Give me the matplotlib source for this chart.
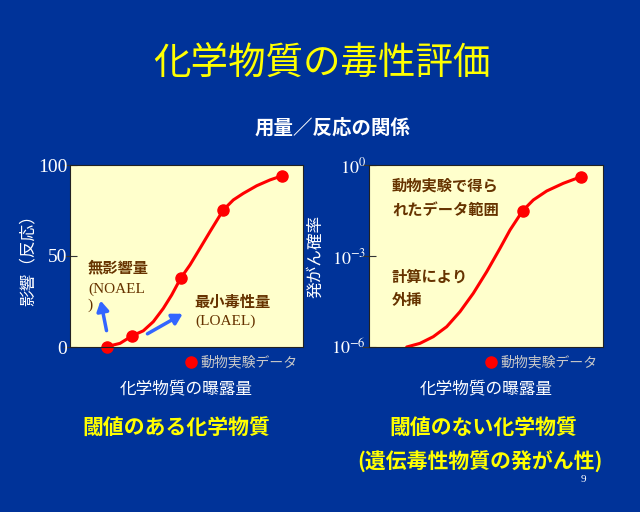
import numpy as np
import matplotlib
matplotlib.use("Agg")
import matplotlib.pyplot as plt

plt.rcParams['font.family'] = ['Noto Sans CJK JP', 'DejaVu Sans']
plt.rcParams['mathtext.fontset'] = 'stix'

# --- data ---
# left panel: dose / response (threshold chemical)
left_pts_x = [1.575, 2.674, 4.751, 6.579, 9.086]
left_pts_y = [0, 6.2, 37.8, 75.3, 94.0]
left_curve_x = [1.575, 2.146, 2.674, 3.146, 3.575, 4.004, 4.365, 4.751, 5.150,
                5.579, 6.009, 6.579, 7.009, 7.438, 8.013, 8.584, 9.086]
left_curve_y = [0.2, 2.0, 6.2, 8.9, 13.9, 21.2, 28.6, 37.8, 45.1,
                54.2, 63.4, 75.3, 80.8, 84.4, 88.6, 91.8, 94.0]

# right panel: carcinogenic probability (no threshold)
right_pts_x = [6.568, 9.060]
right_pts_y = [0.0311, 0.411]
right_curve_x = [1.611, 2.179, 2.748, 3.320, 3.889, 4.457, 5.030, 5.598,
                 6.026, 6.568, 7.021, 7.594, 8.303, 9.060]
right_curve_y = [1.0e-6, 1.32e-6, 2.19e-6, 4.67e-6, 1.46e-5, 5.89e-5, 3.03e-4,
                 1.79e-3, 7.19e-3, 0.0311, 0.0702, 0.139, 0.249, 0.411]

left_yticks = [0, 50, 100]
right_yticks = [1e-6, 1e-3, 1e0]
right_yticklabels = [r'$10^{-6}$', r'$10^{-3}$', r'$10^{0}$']

bg = '#003399'
face = '#FFFFCC'
brown = '#663300'
yellow = '#FFFF00'

fig = plt.figure(figsize=(6.4, 5.12), dpi=100)
fig.patch.set_facecolor(bg)

fig.text(0.503, 1 - 64 / 512, '化学物質の毒性評価', color=yellow, fontsize=27,
         ha='center', va='center')
fig.text(0.519, 1 - 128 / 512, '用量／反応の関係', color='white', fontsize=14,
         fontweight='bold', ha='center', va='center')


def style_axes(ax, size=14):
    ax.set_facecolor(face)
    for s in ax.spines.values():
        s.set_color('#222222')
        s.set_linewidth(0.8)
    ax.set_xticks([])
    ax.tick_params(axis='y', colors='#333333', direction='inout', length=10,
                   labelcolor='white', labelsize=size, pad=-3)
    for lab in ax.get_yticklabels():
        lab.set_fontfamily('Liberation Serif')
    ax.set_xlabel('化学物質の曝露量', color='white', fontsize=12, labelpad=24)


# left panel
ax1 = fig.add_axes([70 / 640, 1 - 347 / 512, 233 / 640, 182 / 512])
ax1.plot(left_curve_x, left_curve_y, color='red', lw=2.2,
         solid_joinstyle='round', solid_capstyle='round')
ax1.plot(left_pts_x, left_pts_y, 'o', color='red', ms=8, clip_on=False,
         label='動物実験データ')
ax1.set_xlim(0, 10)
ax1.set_ylim(0, 100)
ax1.set_yticks(left_yticks)
ax1.set_yticklabels([str(v) for v in left_yticks])
style_axes(ax1)
ax1.set_ylabel('影響（反応）', color='white', fontsize=12)
ax1.yaxis.set_label_coords(-0.142, 0.5)

ax1.text(0.77, 44, '無影響量', color=brown, fontsize=11, fontweight='bold', va='center')
ax1.text(0.77, 32, '(NOAEL', color=brown, fontsize=11, va='center',
         family='Liberation Serif')
ax1.text(0.77, 23, ')', color=brown, fontsize=11, va='center',
         family='Liberation Serif')
ax1.text(5.36, 25, '最小毒性量', color=brown, fontsize=11, fontweight='bold', va='center')
ax1.text(5.36, 14, '(LOAEL)', color=brown, fontsize=11, va='center',
         family='Liberation Serif')
arrow = dict(arrowstyle='-|>,head_width=0.35,head_length=0.6', color='#3366FF', lw=2.5)
ax1.annotate('', xy=(1.29, 27), xytext=(1.59, 7.5), arrowprops=arrow)
ax1.annotate('', xy=(4.94, 19), xytext=(3.22, 6.5), arrowprops=arrow)

leg_kw = dict(loc='upper right', bbox_to_anchor=(1.03, 0.02), frameon=False,
              handletextpad=0.2, handlelength=1.0, fontsize=10, labelcolor='#C8C8C8')
ax1.legend(**leg_kw)

# right panel
ax2 = fig.add_axes([369 / 640, 1 - 347 / 512, 234 / 640, 182 / 512])
ax2.plot(right_curve_x, right_curve_y, color='red', lw=2.2,
         solid_joinstyle='round', solid_capstyle='round')
ax2.plot(right_pts_x, right_pts_y, 'o', color='red', ms=8, clip_on=False,
         label='動物実験データ')
ax2.set_yscale('log')
ax2.set_xlim(0, 10)
ax2.set_ylim(1e-6, 1e0)
ax2.set_yticks(right_yticks)
ax2.set_yticklabels(right_yticklabels)
ax2.minorticks_off()
style_axes(ax2, size=13)
ax2.set_ylabel('発がん確率', color='white', fontsize=12)
ax2.yaxis.set_label_coords(-0.19, 0.5)

ax2.text(0.098, 0.885, '動物実験で得ら', transform=ax2.transAxes, color=brown,
         fontsize=11, fontweight='bold', va='center')
ax2.text(0.098, 0.753, 'れたデータ範囲', transform=ax2.transAxes, color=brown,
         fontsize=11, fontweight='bold', va='center')
ax2.text(0.098, 0.385, '計算により', transform=ax2.transAxes, color=brown,
         fontsize=11, fontweight='bold', va='center')
ax2.text(0.098, 0.258, '外挿', transform=ax2.transAxes, color=brown,
         fontsize=11, fontweight='bold', va='center')
ax2.legend(**leg_kw)

fig.text(176 / 640, 1 - 428 / 512, '閾値のある化学物質', color=yellow, fontsize=15,
         fontweight='bold', ha='center', va='center')
fig.text(483 / 640, 1 - 428 / 512, '閾値のない化学物質', color=yellow, fontsize=15,
         fontweight='bold', ha='center', va='center')
fig.text(480 / 640, 1 - 462 / 512, '(遺伝毒性物質の発がん性)', color=yellow, fontsize=15,
         fontweight='bold', ha='center', va='center')
fig.text(583 / 640, 1 - 479 / 512, '9', color='white', fontsize=8,
         family='Liberation Serif', ha='center', va='center')

fig.savefig('out.png', dpi=100, facecolor=bg)
